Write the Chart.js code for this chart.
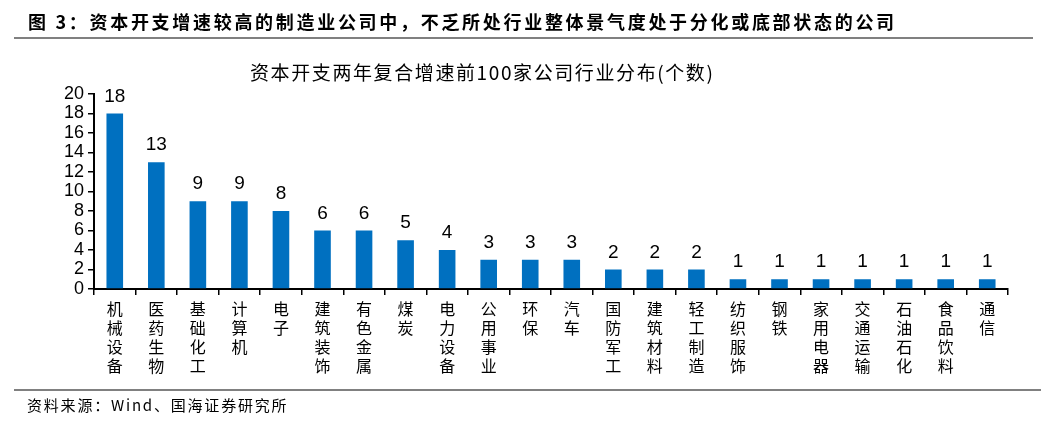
<!DOCTYPE html>
<html>
<head>
<meta charset="utf-8">
<script src="https://cdn.jsdelivr.net/npm/chart.js@4/dist/chart.umd.min.js"></script>
<style>
    body { margin: 0; background: #ffffff; }
    #wrap { position: relative; width: 1062px; height: 429px; overflow: hidden; }
    #myChart { position: absolute; left: 0; top: 0; }
    .txt { position: absolute; white-space: nowrap; color: #000; font-family: 'Noto Sans CJK SC', sans-serif; }
    #head { left: 28px; top: 8px; font-size: 18px; font-weight: bold; letter-spacing: 2.7px; line-height: 26px; }
    #chartTitle { left: 250px; top: 59px; font-size: 19px; letter-spacing: 1.6px; line-height: 26px; }
    #source { left: 27px; top: 394px; font-size: 15px; letter-spacing: 1.8px; line-height: 22px; }
    .rule { position: absolute; left: 14px; width: 1019px; height: 2px; background: #808080; }
</style>
</head>
<body>
<div id="wrap">
    <canvas id="myChart" width="1062" height="429"></canvas>
    <div class="txt" id="head">图 3：资本开支增速较高的制造业公司中，不乏所处行业整体景气度处于分化或底部状态的公司</div>
    <div class="rule" style="top:37px;"></div>
    <div class="txt" id="chartTitle">资本开支两年复合增速前100家公司行业分布(个数)</div>
    <div class="rule" style="top:389px; width:1027px;"></div>
    <div class="txt" id="source">资料来源：Wind、国海证券研究所</div>
</div>
<script>
// industries and how many of the top 100 companies fall in each
var industries = ['机械设备', '医药生物', '基础化工', '计算机', '电子', '建筑装饰', '有色金属', '煤炭',
    '电力设备', '公用事业', '环保', '汽车', '国防军工', '建筑材料', '轻工制造', '纺织服饰',
    '钢铁', '家用电器', '交通运输', '石油石化', '食品饮料', '通信'];
var companyCounts = [18, 13, 9, 9, 8, 6, 6, 5, 4, 3, 3, 3, 2, 2, 2, 1, 1, 1, 1, 1, 1, 1];
var yTicks = [0, 2, 4, 6, 8, 10, 12, 14, 16, 18, 20];

document.addEventListener('DOMContentLoaded', function() {
    // split each name into single characters so they stack top to bottom
    var stackedLabels = industries.map(function(name) { return name.split(''); });

    var valueLabels = {
        id: 'valueLabels',
        afterDatasetsDraw: function(chart) {
            var ctx = chart.ctx;
            var meta = chart.getDatasetMeta(0);
            ctx.save();
            ctx.fillStyle = '#000000';
            ctx.font = "19px 'Liberation Sans', Arial, sans-serif";
            ctx.textAlign = 'center';
            ctx.textBaseline = 'alphabetic';
            meta.data.forEach(function(bar, i) {
                ctx.fillText(companyCounts[i], bar.x, bar.y - 12);
            });
            ctx.restore();
        }
    };

    var barChart = document.getElementById('myChart');
    new Chart(barChart, {
        type: 'bar',
        data: {
            labels: stackedLabels,
            datasets: [{
                data: companyCounts,
                backgroundColor: '#0070C0',
                borderWidth: 0,
                barPercentage: 0.4,
                categoryPercentage: 1
            }]
        },
        options: {
            responsive: false,
            animation: false,
            layout: { padding: { top: 94, right: 54, left: 0, bottom: 0 } },
            plugins: {
                legend: { display: false },
                tooltip: { enabled: false },
                title: { display: false }
            },
            scales: {
                y: {
                    min: yTicks[0],
                    max: yTicks[yTicks.length - 1],
                    afterFit: function(scale) { scale.width = 94; },
                    ticks: {
                        stepSize: 2,
                        autoSkip: false,
                        color: '#000000',
                        padding: 4,
                        font: { size: 18, family: "'Liberation Sans', Arial, sans-serif" }
                    },
                    grid: { drawOnChartArea: false, drawTicks: true, tickLength: 6, color: '#000000', lineWidth: 1.5 },
                    border: { display: true, color: '#000000', width: 2 }
                },
                x: {
                    afterFit: function(scale) { scale.height = 140; },
                    ticks: {
                        color: '#000000',
                        autoSkip: false,
                        maxRotation: 0,
                        minRotation: 0,
                        padding: 4,
                        font: { size: 16, family: "'Noto Sans CJK SC', sans-serif", lineHeight: 1.19 }
                    },
                    grid: { drawOnChartArea: false, drawTicks: true, tickLength: 6, color: '#000000', lineWidth: 1.5, offset: true },
                    border: { display: true, color: '#000000', width: 2 }
                }
            }
        },
        plugins: [valueLabels]
    });
});
</script>
</body>
</html>
